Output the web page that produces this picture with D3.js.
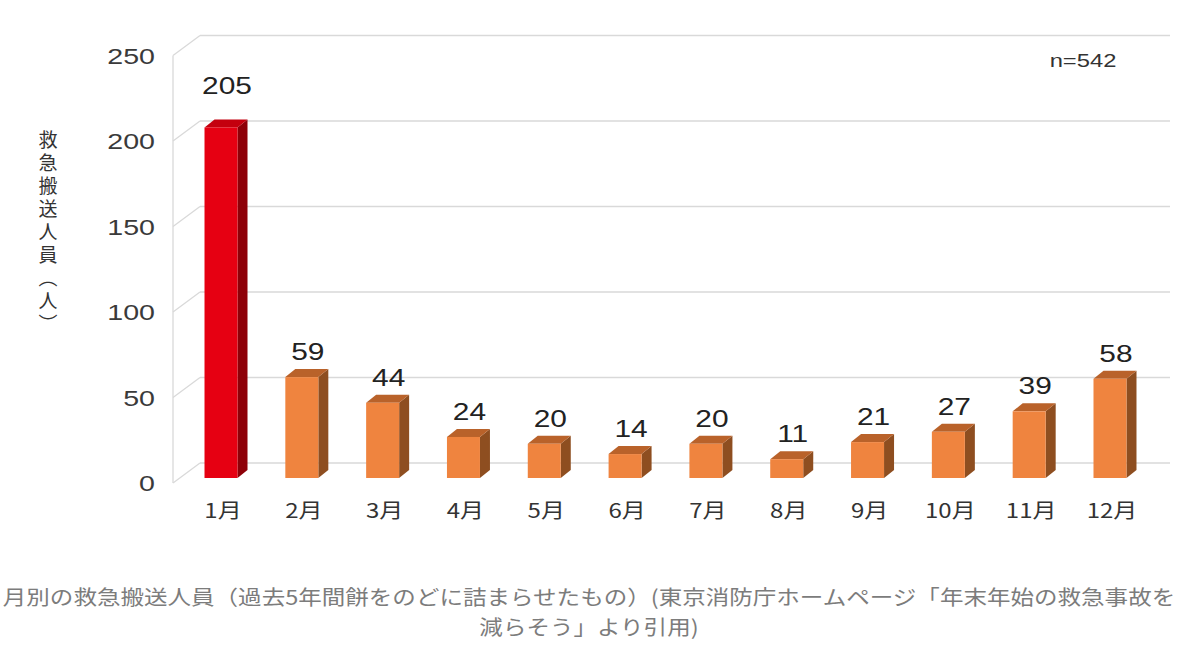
<!DOCTYPE html>
<html><head><meta charset="utf-8">
<script src="https://cdn.jsdelivr.net/npm/d3@7"></script>
<style>
html,body{margin:0;padding:0;background:#fff;}
svg{display:block;}
</style>
</head><body>
<svg id="chart" width="1200" height="660"></svg>
<script>
const months = ["1月","2月","3月","4月","5月","6月","7月","8月","9月","10月","11月","12月"];
const values = [205,59,44,24,20,14,20,11,21,27,39,58];
const yTicks = [0,50,100,150,200,250];
const yTitle = "救急搬送人員（人）";
const nLabel = "n=542";
const captionLines = ["月別の救急搬送人員（過去5年間餅をのどに詰まらせたもの）(東京消防庁ホームページ「年末年始の救急事故を","減らそう」より引用)"];

const svg = d3.select("#chart");
const numFont = "'Liberation Sans', Arial, sans-serif";
const jpFont = "'Noto Sans CJK JP', 'Liberation Sans', sans-serif";

const x = d3.scalePoint().domain(months).range([180.6, 1150.4]).padding(0.5);
const yFront = d3.scaleLinear().domain([0,250]).range([483, 55.5]);
const depthX = 27, depthY = -20;     // wall depth
const frontX = 173, wallRight = 1170;
const barW = 33, barDX = 10, barDY = -8, barOff = -5;

// grid (back wall) + side diagonals
const g = svg.append("g");
yTicks.forEach(t => {
  const yf = yFront(t), yb = yf + depthY;
  g.append("line").attr("x1", frontX + depthX).attr("x2", wallRight).attr("y1", yb).attr("y2", yb)
    .attr("stroke", "#d9d9d9").attr("stroke-width", 1.3);
  g.append("line").attr("x1", frontX).attr("y1", yf).attr("x2", frontX + depthX).attr("y2", yb)
    .attr("stroke", "#d9d9d9").attr("stroke-width", 1.3);
});
g.append("line").attr("x1", frontX).attr("x2", frontX).attr("y1", yFront(0)).attr("y2", yFront(250))
  .attr("stroke", "#d9d9d9").attr("stroke-width", 1.3);

// y tick labels
yTicks.forEach(t => {
  svg.append("g").attr("transform", `translate(155,${yFront(t) + 8}) scale(1.3,1)`)
    .append("text").attr("text-anchor", "end").attr("font-family", numFont).attr("font-size", 22)
    .attr("fill", "#3a3a3a").text(t);
});

// bars
const palette = i => i === 0
  ? {front:"#e60012", side:"#8e0008", top:"#c4000e"}
  : {front:"#ef843f", side:"#8e4e20", top:"#b9622a"};

months.forEach((m, i) => {
  const v = values[i];
  const cx = x(m);
  const x0 = cx - barW/2, x1 = cx + barW/2;
  const yb = yFront(0) + barOff, yt = yFront(v) + barOff;
  const c = palette(i);
  const bg = svg.append("g");
  bg.append("polygon").attr("points", [[x1,yb],[x1+barDX,yb+barDY],[x1+barDX,yt+barDY],[x1,yt]].map(p=>p.join(",")).join(" "))
    .attr("fill", c.side);
  bg.append("polygon").attr("points", [[x0,yt],[x0+barDX,yt+barDY],[x1+barDX,yt+barDY],[x1,yt]].map(p=>p.join(",")).join(" "))
    .attr("fill", c.top);
  bg.append("rect").attr("x", x0).attr("y", yt).attr("width", barW).attr("height", yb - yt).attr("fill", c.front);

  // value label
  const extra = v > 150 ? -16 : 0;
  svg.append("g").attr("transform", `translate(${cx + barDX/2 + 1},${yt + barDY - 9 + extra}) scale(1.3,1)`)
    .append("text").attr("text-anchor", "middle").attr("font-family", numFont).attr("font-size", 23)
    .attr("fill", "#222").text(v);

  // category label
  const lg = svg.append("g").attr("transform", `translate(${cx + 2},${518}) scale(1.2,1)`);
  lg.append("text").attr("text-anchor", "middle").attr("font-family", jpFont).attr("font-size", 20)
    .attr("fill", "#333").text(m);
});

// y axis title (vertical)
svg.append("text").attr("x", 48).attr("y", 130)
  .attr("font-family", jpFont).attr("font-size", 19).attr("fill", "#333")
  .style("writing-mode", "vertical-rl").style("letter-spacing", "4px")
  .text(yTitle);

// n label
svg.append("g").attr("transform", `translate(1083,67) scale(1.25,1)`)
  .append("text").attr("text-anchor", "middle").attr("font-family", numFont).attr("font-size", 19)
  .attr("fill", "#333").text(nLabel);

// caption (fit first line to the reference width)
const capG = svg.append("g").attr("transform", "translate(589,0)");
const capTexts = captionLines.map((line, i) =>
  capG.append("text").attr("x", 0).attr("y", 605 + i * 30).attr("text-anchor", "middle")
    .attr("font-family", jpFont).attr("font-size", 20.5).attr("fill", "#7c7c7c")
    .text(line));
const w0 = capTexts[0].node().getComputedTextLength();
const k = 1173 / w0;
capG.attr("transform", `translate(589,0) scale(${k},1)`);
</script>
</body></html>
